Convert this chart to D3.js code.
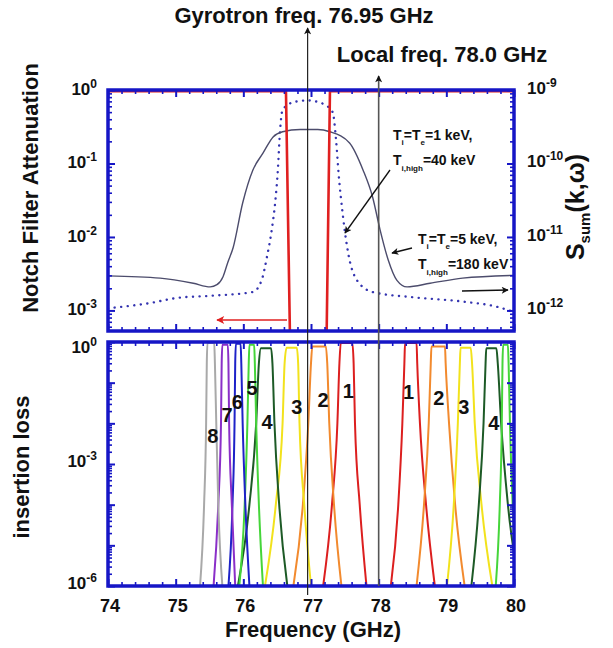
<!DOCTYPE html>
<html><head><meta charset="utf-8">
<script src="https://cdn.jsdelivr.net/npm/d3@7"></script>
<style>body{margin:0;background:#fff}text{font-family:"Liberation Sans",Arial,Helvetica,sans-serif;font-weight:bold;fill:#111}</style>
</head><body><svg id="c" width="613" height="648"></svg>
<script>
// ---------- data ----------
const freqTicks = [74, 75, 76, 77, 78, 79, 80];
const notchTickExp = [0, -1, -2, -3];
const sumTickExp = [-9, -10, -11, -12];
const lossTickExp = [0, -3, -6];
const gyrotronFreq = 76.95;
const localFreq = 78.0;

// notch filter attenuation (left axis, top panel)
const notchF = [74, 76.63, 76.69, 77.23, 77.28, 80];
const notchA = [0.96, 0.96, 4e-4, 4e-4, 0.96, 0.96];

// S_sum(k,w), Ti=Te=5 keV, Ti,high=180 keV (solid, right axis)
const sSolidF = [74.0, 74.77, 75.26, 75.51, 75.61, 75.70, 75.77, 75.85, 75.99, 76.14, 76.29, 76.44, 76.58, 76.84, 77.10, 77.28, 77.57, 77.77, 77.91, 78.02, 78.14, 78.27, 78.42, 78.76, 79.24, 80.0];
const sSolidV = [2.95e-12, 2.75e-12, 2.34e-12, 2.09e-12, 2.24e-12, 2.88e-12, 4.5e-12, 7.2e-12, 2.9e-11, 8.1e-11, 1.38e-10, 2.3e-10, 2.7e-10, 2.9e-10, 2.9e-10, 2.7e-10, 1.9e-10, 8.1e-11, 3.5e-11, 1.26e-11, 4.9e-12, 2.57e-12, 2.09e-12, 2.34e-12, 2.75e-12, 3.0e-12];

// S_sum(k,w), Ti=Te=1 keV, Ti,high=40 keV (dotted, right axis)
const sDotF = [74.0, 74.62, 75.02, 75.51, 76.14, 76.27, 76.35, 76.42, 76.47, 76.51, 76.54, 76.58, 76.76, 76.95, 77.16, 77.32, 77.37, 77.41, 77.47, 77.55, 77.68, 77.91, 78.51, 79.24, 79.75, 80.0];
const sDotV = [1.07e-12, 1.26e-12, 1.48e-12, 1.58e-12, 1.78e-12, 2.57e-12, 5.4e-12, 1.26e-11, 2.9e-11, 8.1e-11, 2.57e-10, 5.4e-10, 6.9e-10, 7.2e-10, 6.6e-10, 5.0e-10, 2.1e-10, 6.9e-11, 2.0e-11, 6.0e-12, 2.57e-12, 1.78e-12, 1.51e-12, 1.32e-12, 1.12e-12, 9.5e-13];

// filter-bank insertion loss (bottom panel)
const filterNames = ["1", "2", "3", "4", "5", "6", "7", "8", "1", "2", "3", "4", "5"];
const filterColors = ["#dc1f1f", "#f28a2e", "#f2e21c", "#1d5a26", "#45d53a", "#1e22c8", "#8a2fc8", "#a9a9a9", "#dc1f1f", "#f28a2e", "#f2e21c", "#1d5a26", "#45d53a"];
const filterFreqs = [
  [77.18, 77.31, 77.39, 77.42, 77.44, 77.61, 77.63, 77.65, 77.72, 77.82],
  [76.74, 76.88, 76.96, 77.00, 77.02, 77.22, 77.24, 77.27, 77.34, 77.45],
  [76.32, 76.48, 76.58, 76.61, 76.64, 76.79, 76.81, 76.83, 76.90, 77.00],
  [75.92, 76.09, 76.19, 76.23, 76.26, 76.41, 76.43, 76.46, 76.53, 76.65],
  [75.94, 76.02, 76.06, 76.08, 76.09, 76.16, 76.17, 76.19, 76.23, 76.29],
  [75.78, 75.84, 75.87, 75.88, 75.89, 75.96, 75.97, 75.99, 76.03, 76.09],
  [75.56, 75.63, 75.67, 75.68, 75.69, 75.77, 75.78, 75.79, 75.83, 75.88],
  [75.36, 75.42, 75.45, 75.46, 75.47, 75.57, 75.58, 75.60, 75.63, 75.69],
  [78.18, 78.29, 78.35, 78.38, 78.39, 78.56, 78.57, 78.61, 78.70, 78.83],
  [78.56, 78.67, 78.74, 78.77, 78.78, 78.98, 78.99, 79.04, 79.13, 79.27],
  [79.01, 79.11, 79.17, 79.20, 79.21, 79.36, 79.38, 79.42, 79.52, 79.68],
  [79.37, 79.48, 79.55, 79.58, 79.59, 79.74, 79.76, 79.81, 79.91, 80.08],
  [79.73, 79.79, 79.82, 79.83, 79.84, 79.91, 79.92, 79.94, 79.98, 80.06]
];
const filterLoss = [
  [1e-6, 1e-4, 1e-2, 0.3, 0.95, 0.95, 0.3, 1e-2, 1e-4, 1e-6],
  [1e-6, 1e-4, 1e-2, 0.3, 0.78, 0.78, 0.3, 1e-2, 1e-4, 1e-6],
  [1e-6, 1e-4, 1e-2, 0.3, 0.72, 0.72, 0.3, 1e-2, 1e-4, 1e-6],
  [1e-6, 1e-4, 1e-2, 0.3, 0.70, 0.70, 0.3, 1e-2, 1e-4, 1e-6],
  [1e-6, 1e-4, 1e-2, 0.3, 0.85, 0.85, 0.3, 1e-2, 1e-4, 1e-6],
  [1e-6, 1e-4, 1e-2, 0.3, 0.90, 0.90, 0.3, 1e-2, 1e-4, 1e-6],
  [1e-6, 1e-4, 1e-2, 0.3, 0.85, 0.85, 0.3, 1e-2, 1e-4, 1e-6],
  [1e-6, 1e-4, 1e-2, 0.3, 0.95, 0.95, 0.3, 1e-2, 1e-4, 1e-6],
  [1e-6, 1e-4, 1e-2, 0.3, 0.95, 0.95, 0.3, 1e-2, 1e-4, 1e-6],
  [1e-6, 1e-4, 1e-2, 0.3, 0.78, 0.78, 0.3, 1e-2, 1e-4, 1e-6],
  [1e-6, 1e-4, 1e-2, 0.3, 0.72, 0.72, 0.3, 1e-2, 1e-4, 1e-6],
  [1e-6, 1e-4, 1e-2, 0.3, 0.70, 0.70, 0.3, 1e-2, 1e-4, 1e-6],
  [1e-6, 1e-4, 1e-2, 0.3, 0.85, 0.85, 0.3, 1e-2, 1e-4, 1e-6]
];
// label anchor positions (frequency, loss) for channel numbers
const labelFreq = [77.55, 77.18, 76.79, 76.35, 76.13, 75.91, 75.76, 75.55, 78.44, 78.89, 79.26, 79.70];
const labelLoss = [6.3e-2, 3.7e-2, 2.5e-2, 1.1e-2, 7.4e-2, 3.4e-2, 1.6e-2, 5e-3, 5.9e-2, 4.2e-2, 2.5e-2, 1.0e-2];
const labelText = ["1", "2", "3", "4", "5", "6", "7", "8", "1", "2", "3", "4"];

// ---------- layout ----------
const L = 108, R = 514;
const T1 = 90, B1 = 331, T2 = 342, B2 = 586;
const BLUE = "#1616c6";

const svg = d3.select("#c");
svg.append("rect").attr("width", 613).attr("height", 648).attr("fill", "#fff");

const x = d3.scaleLinear().domain([74, 80]).range([L, R]);
const yN = d3.scaleLog().domain([Math.pow(10, -3.28), 1]).range([B1, T1]);
const yS = d3.scaleLog().domain([Math.pow(10, -12.28), 1e-9]).range([B1, T1]);
const yL = d3.scaleLog().domain([1e-6, 1]).range([B2, T2]);

const defs = svg.append("defs");
defs.append("clipPath").attr("id", "clipTop").append("rect").attr("x", L).attr("y", T1).attr("width", R - L).attr("height", B1 - T1);
defs.append("clipPath").attr("id", "clipBot").append("rect").attr("x", L).attr("y", T2).attr("width", R - L).attr("height", B2 - T2);
function marker(id, color, w, h) {
  defs.append("marker").attr("id", id).attr("viewBox", "0 0 10 10").attr("refX", 9).attr("refY", 5)
    .attr("markerUnits", "userSpaceOnUse").attr("markerWidth", w).attr("markerHeight", h).attr("orient", "auto")
    .append("path").attr("d", "M0,0 L10,5 L0,10 L2.5,5 Z").attr("fill", color);
}
marker("ahK", "#111", 10, 7);
marker("ahR", "#e02020", 13, 8);

function minorLog(scale) {
  const [a, b] = scale.domain();
  const out = [];
  for (let d = Math.floor(Math.log10(a)); d <= Math.ceil(Math.log10(b)); d++) {
    for (let k = 2; k <= 9; k++) { const v = k * Math.pow(10, d); if (v >= a && v <= b) out.push(v); }
  }
  return out;
}
const majorX = freqTicks;
const minorX = d3.range(74, 80.001, 0.2).filter(v => Math.abs(v - Math.round(v)) > 0.01);

function styleAxis(g, w) {
  g.select(".domain").remove();
  g.selectAll(".tick line").attr("stroke", BLUE).attr("stroke-width", w);
  g.selectAll(".tick text").remove();
}
function panelAxes(top, bottom, yLeft, yRight, leftMajor, rightMajor) {
  const g = svg.append("g");
  [[d3.axisBottom(x), bottom], [d3.axisTop(x), top]].forEach(([ax, yy]) => {
    g.append("g").attr("transform", `translate(0,${yy})`).call(ax.tickValues(majorX).tickSize(-7)).call(s => styleAxis(s, 2));
  });
  [[d3.axisBottom(x), bottom], [d3.axisTop(x), top]].forEach(([ax, yy]) => {
    g.append("g").attr("transform", `translate(0,${yy})`).call(ax.tickValues(minorX).tickSize(-4)).call(s => styleAxis(s, 1.6));
  });
  g.append("g").attr("transform", `translate(${L},0)`).call(d3.axisLeft(yLeft).tickValues(leftMajor).tickSize(-7)).call(s => styleAxis(s, 2));
  g.append("g").attr("transform", `translate(${L},0)`).call(d3.axisLeft(yLeft).tickValues(minorLog(yLeft)).tickSize(-4)).call(s => styleAxis(s, 1.6));
  g.append("g").attr("transform", `translate(${R},0)`).call(d3.axisRight(yRight).tickValues(rightMajor).tickSize(-7)).call(s => styleAxis(s, 2));
  g.append("g").attr("transform", `translate(${R},0)`).call(d3.axisRight(yRight).tickValues(minorLog(yRight)).tickSize(-4)).call(s => styleAxis(s, 1.6));
  g.append("rect").attr("x", L).attr("y", top).attr("width", R - L).attr("height", bottom - top)
    .attr("fill", "none").attr("stroke", BLUE).attr("stroke-width", 3.5);
}

// ---------- top panel curves ----------
const gTop = svg.append("g").attr("clip-path", "url(#clipTop)");
const lineS = d3.line().x(d => x(d[0])).y(d => yS(d[1])).curve(d3.curveMonotoneX);
gTop.append("path").datum(d3.zip(sDotF, sDotV)).attr("d", lineS)
  .attr("fill", "none").attr("stroke", "#3434b0").attr("stroke-width", 2.4)
  .attr("stroke-dasharray", "0.1,6.5").attr("stroke-linecap", "round");
gTop.append("path").datum(d3.zip(sSolidF, sSolidV)).attr("d", lineS)
  .attr("fill", "none").attr("stroke", "#4c4c6c").attr("stroke-width", 1.4);
const lineN = d3.line().x(d => x(d[0])).y(d => yN(d[1]));
gTop.append("path").datum(d3.zip(notchF, notchA)).attr("d", lineN)
  .attr("fill", "none").attr("stroke", "#e02020").attr("stroke-width", 2.6);

// ---------- bottom panel curves ----------
const gBot = svg.append("g").attr("clip-path", "url(#clipBot)");
const lineL = d3.line().x(d => x(d[0])).y(d => yL(d[1])).curve(d3.curveMonotoneX);
filterFreqs.forEach((fs, i) => {
  gBot.append("path").datum(d3.zip(fs, filterLoss[i])).attr("d", lineL)
    .attr("fill", "none").attr("stroke", filterColors[i]).attr("stroke-width", 2);
});

// axes & frames
panelAxes(T1, B1, yN, yS, notchTickExp.map(e => Math.pow(10, e)), sumTickExp.map(e => Math.pow(10, e)));
panelAxes(T2, B2, yL, yL, d3.range(-6, 1).map(e => Math.pow(10, e)), d3.range(-6, 1).map(e => Math.pow(10, e)));

// channel numbers
labelText.forEach((t, i) => {
  svg.append("text").attr("x", x(labelFreq[i])).attr("y", yL(labelLoss[i]) + 7)
    .attr("text-anchor", "middle").attr("font-size", 20).text(t);
});

// ---------- tick labels ----------
function powLabel(px, py, exp, anchor) {
  const t = svg.append("text").attr("x", px).attr("y", py).attr("text-anchor", anchor).attr("font-size", 17);
  t.append("tspan").text("10");
  t.append("tspan").attr("dy", -7).attr("font-size", 12).text(exp);
}
notchTickExp.forEach(e => powLabel(97, yN(Math.pow(10, e)) + 5, e, "end"));
sumTickExp.forEach(e => powLabel(527, yS(Math.pow(10, e)) + 4, e, "start"));
lossTickExp.forEach(e => powLabel(97, yL(Math.pow(10, e)) + (e === 0 ? 11 : 3), e, "end"));
freqTicks.forEach(f => {
  svg.append("text").attr("x", x(f) + 2).attr("y", 612).attr("text-anchor", "middle").attr("font-size", 18).text(f);
});

// ---------- axis titles ----------
svg.append("text").attr("x", 313).attr("y", 637).attr("text-anchor", "middle").attr("font-size", 22).text("Frequency (GHz)");
svg.append("text").attr("transform", "translate(38,188) rotate(-90)").attr("text-anchor", "middle").attr("font-size", 22).text("Notch Filter Attenuation");
svg.append("text").attr("transform", "translate(29,467) rotate(-90)").attr("text-anchor", "middle").attr("font-size", 22).text("insertion loss");
const st = svg.append("text").attr("transform", "translate(584,207) rotate(-90)").attr("text-anchor", "middle").attr("font-size", 25);
st.append("tspan").text("S");
st.append("tspan").attr("dy", 6).attr("font-size", 15).text("sum");
st.append("tspan").attr("dy", -6).text("(k,ω)");

// ---------- frequency markers ----------
svg.append("line").attr("x1", x(gyrotronFreq)).attr("x2", x(gyrotronFreq)).attr("y1", 595).attr("y2", 28)
  .attr("stroke", "#222").attr("stroke-width", 1.2).attr("marker-end", "url(#ahK)");
svg.append("line").attr("x1", x(localFreq)).attr("x2", x(localFreq)).attr("y1", B2).attr("y2", 76)
  .attr("stroke", "#555").attr("stroke-width", 1.6).attr("marker-end", "url(#ahK)");
svg.append("text").attr("x", 304).attr("y", 23).attr("text-anchor", "middle").attr("font-size", 22).text("Gyrotron freq. 76.95 GHz");
svg.append("text").attr("x", 442).attr("y", 62).attr("text-anchor", "middle").attr("font-size", 22).text("Local freq. 78.0 GHz");

// ---------- annotations ----------
function tempLabel(px, py, a, b) {
  const t1 = svg.append("text").attr("x", px).attr("y", py).attr("font-size", 14);
  t1.append("tspan").text("T");
  t1.append("tspan").attr("dy", 5).attr("font-size", 8).text("i");
  t1.append("tspan").attr("dy", -5).text("=T");
  t1.append("tspan").attr("dy", 5).attr("font-size", 8).text("e");
  t1.append("tspan").attr("dy", -5).text("=" + a + " keV,");
  const t2 = svg.append("text").attr("x", px).attr("y", py + 25).attr("font-size", 14);
  t2.append("tspan").text("T");
  t2.append("tspan").attr("dy", 6).attr("font-size", 8).text("i,high");
  t2.append("tspan").attr("dy", -6).text("=" + b + " keV");
}
tempLabel(393, 140, "1", "40");
tempLabel(418, 244, "5", "180");
function arrow(x1, y1, x2, y2, color, id) {
  svg.append("line").attr("x1", x1).attr("y1", y1).attr("x2", x2).attr("y2", y2)
    .attr("stroke", color).attr("stroke-width", 1.3).attr("marker-end", `url(#${id})`);
}
arrow(390, 170, 345, 233, "#111", "ahK");
arrow(412, 248, 392, 253, "#111", "ahK");
arrow(462, 291, 508, 290, "#111", "ahK");
arrow(287, 320, 217, 320, "#e02020", "ahR");
</script></body></html>
